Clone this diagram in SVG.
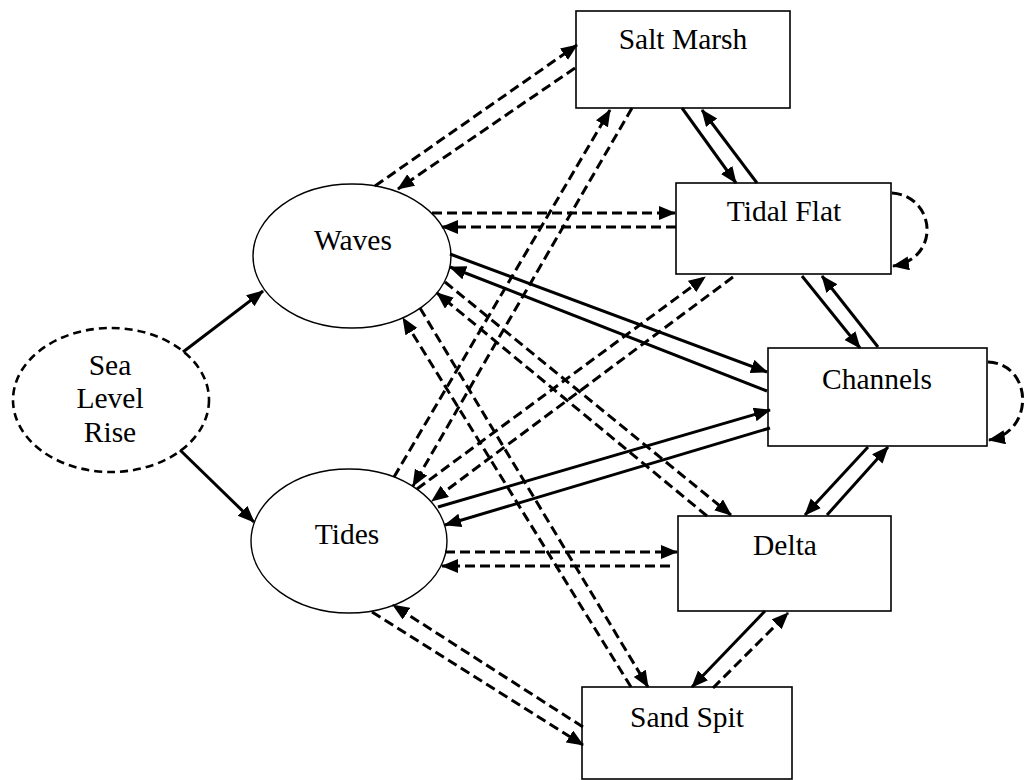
<svg xmlns="http://www.w3.org/2000/svg" width="1025" height="780" viewBox="0 0 1025 780">
<style>
.box{fill:#fff;stroke:#000;stroke-width:1.6}
.ell{fill:#fff;stroke:#000;stroke-width:1.4}
.slr{fill:#fff;stroke:#000;stroke-width:2.6;stroke-dasharray:8 5}
.lbl{font-family:"Liberation Serif","Times New Roman",serif;font-size:29.5px;fill:#000;text-anchor:middle}
.c{fill:none;stroke:#000;stroke-width:3;marker-end:url(#ah)}
.d{stroke-dasharray:10 5}
</style>
<defs>
<marker id="ah" markerUnits="userSpaceOnUse" markerWidth="19" markerHeight="15" refX="16" refY="7" orient="auto">
<path d="M0,0 L17,7 L0,14 z" fill="#000"/>
</marker>
</defs>
<rect width="1025" height="780" fill="#fff"/>
<g id="sea-level-rise">
<ellipse class="slr" cx="111" cy="400" rx="98" ry="72"/>
<text class="lbl" x="110" y="375">Sea</text>
<text class="lbl" x="110" y="408">Level</text>
<text class="lbl" x="110" y="442">Rise</text>
</g>
<g id="waves">
<ellipse class="ell" cx="352" cy="256" rx="99" ry="72"/>
<text class="lbl" x="353" y="250">Waves</text>
</g>
<g id="tides">
<ellipse class="ell" cx="349" cy="541" rx="98" ry="72"/>
<text class="lbl" x="347" y="544">Tides</text>
</g>
<g id="salt-marsh">
<rect class="box" x="576" y="11" width="214" height="97"/>
<text class="lbl" x="683" y="49">Salt Marsh</text>
</g>
<g id="tidal-flat">
<rect class="box" x="676" y="183" width="215" height="91"/>
<text class="lbl" x="784" y="221">Tidal Flat</text>
</g>
<g id="channels">
<rect class="box" x="768" y="348" width="219" height="98"/>
<text class="lbl" x="877" y="389">Channels</text>
</g>
<g id="delta">
<rect class="box" x="678" y="516" width="213" height="95"/>
<text class="lbl" x="785" y="555">Delta</text>
</g>
<g id="sand-spit">
<rect class="box" x="582" y="687" width="210" height="92"/>
<text class="lbl" x="687" y="727">Sand Spit</text>
</g>
<g id="connectors">
<path class="c" d="M183,352 L263,291"/>
<path class="c" d="M180,450 L254,522"/>
<path class="c" d="M450,254 L767,372"/>
<path class="c" d="M767,391 L450,267"/>
<path class="c" d="M438,507 L770,410"/>
<path class="c" d="M770,428 L445,525"/>
<path class="c" d="M682,108 L736,183"/>
<path class="c" d="M757,183 L702,110"/>
<path class="c" d="M802,276 L860,348"/>
<path class="c" d="M878,347 L822,276"/>
<path class="c" d="M868,447 L805,515"/>
<path class="c" d="M827,515 L888,447"/>
<path class="c" d="M765,611 L692,687"/>
<path class="c d" d="M375,186 L577,45"/>
<path class="c d" d="M575,68 L398,189"/>
<path class="c d" d="M432,213 L675,213"/>
<path class="c d" d="M676,227 L442,227"/>
<path class="c d" d="M445,552 L677,552"/>
<path class="c d" d="M670,566 L442,566"/>
<path class="c d" d="M372,612 L583,745"/>
<path class="c d" d="M583,727 L393,605"/>
<path class="c d" d="M713,688 L788,613"/>
<path class="c d" d="M445,282 L731,515"/>
<path class="c d" d="M707,516 L437,293"/>
<path class="c d" d="M420,308 L648,687"/>
<path class="c d" d="M631,687 L403,318"/>
<path class="c d" d="M394,477 L610,110"/>
<path class="c d" d="M632,108 L413,486"/>
<path class="c d" d="M417,489 L705,277"/>
<path class="c d" d="M733,277 L432,501"/>
<path class="c d" d="M892,193 C935,196 942,258 893,266"/>
<path class="c d" d="M988,362 C1033,364 1035,432 989,440"/>
</g>
</svg>
